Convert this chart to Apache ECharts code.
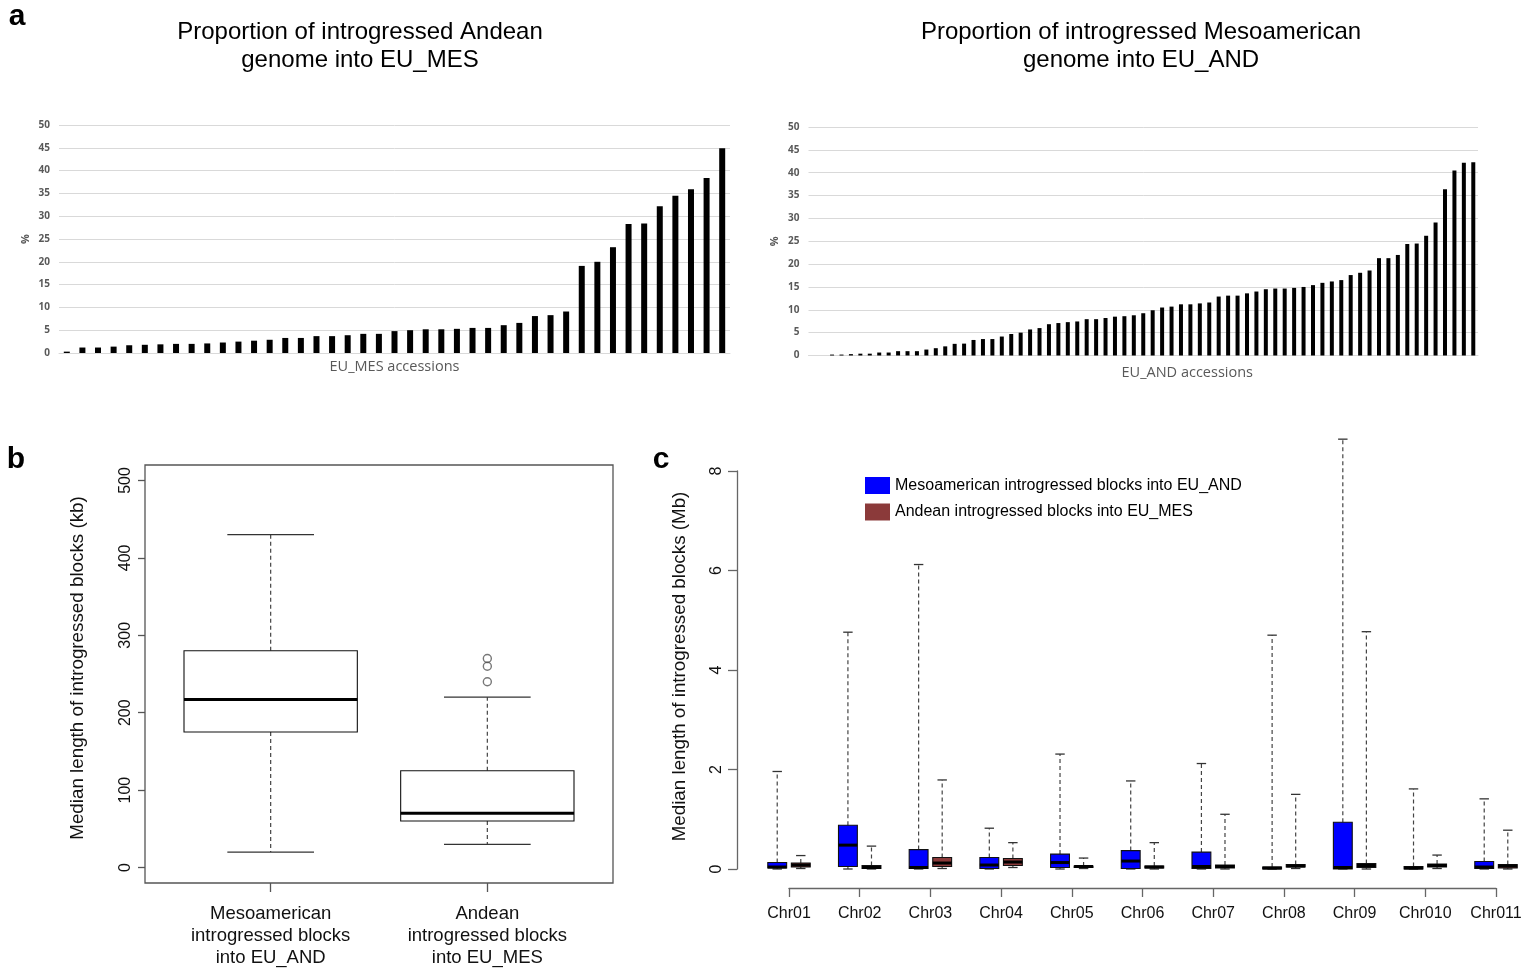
<!DOCTYPE html>
<html>
<head>
<meta charset="utf-8">
<script src="https://cdn.jsdelivr.net/npm/echarts@6/dist/echarts.min.js"></script>
<style>
  html, body { margin: 0; padding: 0; background: #fff; }
  #fig { width: 1527px; height: 975px; }
</style>
</head>
<body>
<div id="fig"></div>
<script>
// ── panel a: % introgressed genome per accession (sorted) ──
var mesPct = [0.3, 1.2, 1.2, 1.4, 1.7, 1.8, 1.9, 2.0, 2.0, 2.1, 2.3, 2.5, 2.7, 2.9, 3.3,
  3.3, 3.7, 3.7, 3.9, 4.2, 4.2, 4.8, 5.0, 5.2, 5.2, 5.3, 5.5, 5.5, 6.1, 6.6, 8.1, 8.3,
  9.1, 19.1, 20.0, 23.2, 28.3, 28.4, 32.2, 34.5, 35.9, 38.4, 44.9];
var andPct = [0, 0, 0.2, 0.2, 0.3, 0.4, 0.4, 0.65, 0.65, 0.95, 0.95, 0.95, 1.3, 1.6, 2.0,
  2.55, 2.6, 3.4, 3.6, 3.6, 4.15, 4.7, 5.0, 5.7, 6.0, 6.85, 7.1, 7.3, 7.45, 7.95, 7.95,
  8.2, 8.5, 8.6, 8.8, 9.25, 9.9, 10.5, 10.7, 11.2, 11.2, 11.4, 11.6, 12.9, 13.1, 13.1,
  13.6, 14.0, 14.5, 14.65, 14.65, 14.8, 15.0, 15.4, 15.9, 16.2, 16.5, 17.6, 18.1, 18.6,
  21.3, 21.3, 22.0, 24.4, 24.5, 26.2, 29.1, 36.4, 40.5, 42.2, 42.3];
var mesAcc = mesPct.map(function (v, i) { return "MES" + (i + 1); });
var andAcc = andPct.map(function (v, i) { return "AND" + (i + 1); });

// ── panel b: median block length (kb), [min, Q1, median, Q3, max] ──
var bNames = ["Mesoamerican\nintrogressed blocks\ninto EU_AND", "Andean\nintrogressed blocks\ninto EU_MES"];
var bBoxes = [[20, 175, 217, 280, 430], [30, 60, 70, 125, 220]];
var bOutliers = [240, 260, 270];   // Andean group
var bTicks = [0, 100, 200, 300, 400, 500];

// ── panel c: per chromosome (Mb), [min, Q1, median, Q3, max] ──
var chrNames = ["Chr01", "Chr02", "Chr03", "Chr04", "Chr05", "Chr06", "Chr07", "Chr08", "Chr09", "Chr010", "Chr011"];
var mesoChr = [
  [0.00, 0.02, 0.04, 0.13, 1.96], [0.00, 0.05, 0.48, 0.88, 4.76], [0.00, 0.01, 0.03, 0.39, 6.12],
  [0.00, 0.01, 0.08, 0.23, 0.82], [0.00, 0.03, 0.13, 0.30, 2.31], [0.00, 0.01, 0.16, 0.37, 1.77],
  [0.00, 0.01, 0.05, 0.34, 2.12], [0.00, 0.00, 0.02, 0.04, 4.70], [0.00, 0.00, 0.03, 0.94, 8.64],
  [0.00, 0.00, 0.02, 0.05, 1.61], [0.00, 0.01, 0.04, 0.15, 1.41]];
var andeanChr = [
  [0.01, 0.04, 0.08, 0.12, 0.27], [0.00, 0.01, 0.03, 0.07, 0.46], [0.01, 0.05, 0.12, 0.23, 1.79],
  [0.03, 0.07, 0.14, 0.21, 0.53], [0.01, 0.03, 0.05, 0.06, 0.22], [0.00, 0.02, 0.04, 0.06, 0.53],
  [0.00, 0.02, 0.05, 0.08, 1.10], [0.01, 0.04, 0.06, 0.09, 1.50], [0.00, 0.03, 0.07, 0.11, 4.77],
  [0.01, 0.04, 0.07, 0.10, 0.28], [0.00, 0.02, 0.06, 0.09, 0.78]];
var cTicks = chrNames.map(function (n, i) { return 1.5 + 3 * i; });
var mesoName = "Mesoamerican introgressed blocks into EU_AND";
var andeanName = "Andean introgressed blocks into EU_MES";

var R_FONT = "'Liberation Sans', Arial, sans-serif";
var XL_FONT = "'Open Sans', 'Noto Sans', sans-serif";

// R-style box: dashed whiskers, half-width staples, thick median
function rBox(fill, wex) {
  return function (params, api) {
    var x = api.value(0);
    var lo = api.coord([x, api.value(1)]), q1 = api.coord([x, api.value(2)]),
        md = api.coord([x, api.value(3)]), q3 = api.coord([x, api.value(4)]),
        hi = api.coord([x, api.value(5)]);
    var w = api.size([wex, 0])[0], cx = lo[0], h = w / 2, cap = w / 4;
    var dash = { stroke: "#444", lineWidth: 1.2, lineDash: [4, 3] };
    var solid = { stroke: "#333", lineWidth: 1.3 };
    return { type: "group", children: [
      { type: "line", shape: { x1: cx, y1: q3[1], x2: cx, y2: hi[1] }, style: dash },
      { type: "line", shape: { x1: cx, y1: q1[1], x2: cx, y2: lo[1] }, style: dash },
      { type: "line", shape: { x1: cx - cap, y1: hi[1], x2: cx + cap, y2: hi[1] }, style: solid },
      { type: "line", shape: { x1: cx - cap, y1: lo[1], x2: cx + cap, y2: lo[1] }, style: solid },
      { type: "rect", shape: { x: cx - h, y: q3[1], width: w, height: q1[1] - q3[1] },
        style: { fill: fill, stroke: "#111", lineWidth: 1.1 } },
      { type: "line", shape: { x1: cx - h, y1: md[1], x2: cx + h, y2: md[1] },
        style: { stroke: "#000", lineWidth: 3 } }
    ] };
  };
}

function xlYAxis(grid) {
  return {
    gridIndex: grid, type: "value", min: 0, max: 50, interval: 5,
    axisLine: { show: false }, axisTick: { show: false },
    splitLine: { lineStyle: { color: "#d9d9d9", width: 1 } },
    axisLabel: { color: "#595959", fontSize: 10, fontWeight: "bold", fontFamily: XL_FONT, margin: 9 },
    name: "%", nameLocation: "middle", nameRotate: 90, nameGap: 28,
    nameTextStyle: { color: "#595959", fontSize: 11, fontWeight: "bold", fontFamily: XL_FONT }
  };
}
function xlXAxis(grid, cats, name, shift) {
  return {
    gridIndex: grid, type: "category", data: cats,
    axisLine: { lineStyle: { color: "#d9d9d9" } }, axisTick: { show: false }, axisLabel: { show: false },
    name: name, nameLocation: "middle", nameGap: shift ? 10 : 6,
    nameTextStyle: { color: "#595959", fontSize: 14.5, fontFamily: XL_FONT, padding: [0, 0, 0, shift || 0] }
  };
}
function txt(text, x, y, size, bold) {
  return { type: "text", x: x, y: y, style: {
    text: text, fill: "#000", fontSize: size, fontWeight: bold ? "bold" : "normal", fontFamily: R_FONT,
    lineHeight: 28, align: "center", verticalAlign: "middle", textAlign: "center", textVerticalAlign: "middle" } };
}

var chart = echarts.init(document.getElementById("fig"), null, { renderer: "canvas" });
chart.setOption({
  animation: false,
  backgroundColor: "#fff",
  textStyle: { fontFamily: R_FONT },
  graphic: [
    txt("a", 17, 17, 30, true), txt("b", 16, 460, 30, true), txt("c", 661, 460, 30, true),
    txt("Proportion of introgressed Andean\ngenome into EU_MES", 360, 46, 24),
    txt("Proportion of introgressed Mesoamerican\ngenome into EU_AND", 1141, 46, 24)
  ],
  legend: {
    data: [mesoName, andeanName], left: 860, top: 472, orient: "vertical",
    icon: "rect", itemWidth: 25, itemHeight: 17, itemGap: 9.5, selectedMode: false,
    textStyle: { fontSize: 16, color: "#000", fontFamily: R_FONT }
  },
  grid: [
    { left: 59, top: 125, width: 671, height: 228 },
    { left: 808.5, top: 127, width: 669.5, height: 228.5 },
    { left: 145, top: 465, width: 468, height: 418, show: true, borderColor: "#555", borderWidth: 1.3, backgroundColor: "transparent" },
    { left: 789, top: 471, width: 707, height: 398 }
  ],
  xAxis: [
    xlXAxis(0, mesAcc, "EU_MES accessions"),
    xlXAxis(1, andAcc, "EU_AND accessions", 88),
    {
      gridIndex: 2, type: "value", min: 0.42, max: 2.58,
      axisLine: { show: false, onZero: false }, splitLine: { show: false },
      axisTick: { customValues: [1, 2], length: 9, lineStyle: { color: "#555", width: 1.3 } },
      axisLabel: { customValues: [1, 2], formatter: function (v) { return bNames[Math.round(v) - 1]; },
        fontSize: 18.5, lineHeight: 22, color: "#111", margin: 20 }
    },
    {
      gridIndex: 3, type: "value", min: 1.5, max: 31.5, offset: 19,
      axisLine: { onZero: false, lineStyle: { color: "#666", width: 1.3 } }, splitLine: { show: false },
      axisTick: { customValues: cTicks, length: 9, lineStyle: { color: "#666", width: 1.3 } },
      axisLabel: { customValues: cTicks, formatter: function (v) { return chrNames[Math.round((v - 1.5) / 3)]; },
        fontSize: 16, color: "#111", margin: 18 }
    }
  ],
  yAxis: [
    xlYAxis(0), xlYAxis(1),
    {
      gridIndex: 2, type: "value", min: -20, max: 520,
      axisLine: { show: false, onZero: false }, splitLine: { show: false },
      axisTick: { customValues: bTicks, length: 7, lineStyle: { color: "#555", width: 1.3 } },
      axisLabel: { customValues: bTicks, rotate: 90, fontSize: 16, color: "#111", margin: 11 },
      name: "Median length of introgressed blocks (kb)", nameLocation: "middle", nameRotate: 90, nameGap: 58,
      nameTextStyle: { fontSize: 18.8, color: "#111", padding: [0, 0, 0, 12] }
    },
    {
      gridIndex: 3, type: "value", min: 0, max: 8, interval: 2, offset: 52,
      axisLine: { show: true, onZero: false, lineStyle: { color: "#666", width: 1.3 } }, splitLine: { show: false },
      axisTick: { show: true, length: 9, lineStyle: { color: "#666", width: 1.3 } },
      axisLabel: { rotate: 90, fontSize: 16, color: "#111", margin: 12 },
      name: "Median length of introgressed blocks (Mb)", nameLocation: "middle", nameRotate: 90, nameGap: 48,
      nameTextStyle: { fontSize: 18.8, color: "#111", padding: [0, 0, 0, 7] }
    }
  ],
  series: [
    { type: "bar", xAxisIndex: 0, yAxisIndex: 0, data: mesPct, barWidth: 6, itemStyle: { color: "#000" } },
    { type: "bar", xAxisIndex: 1, yAxisIndex: 1, data: andPct, barWidth: 4, itemStyle: { color: "#000" } },
    {
      type: "custom", xAxisIndex: 2, yAxisIndex: 2, clip: false,
      data: bBoxes.map(function (b, i) { return [i + 1].concat(b); }),
      encode: { x: 0, y: [1, 2, 3, 4, 5] }, renderItem: rBox("#fff", 0.8)
    },
    {
      type: "scatter", xAxisIndex: 2, yAxisIndex: 2, symbol: "circle", symbolSize: 8,
      data: bOutliers.map(function (v) { return [2, v]; }),
      itemStyle: { color: "rgba(0,0,0,0)", borderColor: "#555", borderWidth: 1.4 }
    },
    {
      name: mesoName, type: "custom", xAxisIndex: 3, yAxisIndex: 3, clip: false,
      itemStyle: { color: "#0000ff" },
      data: mesoChr.map(function (b, i) { return [1 + 3 * i].concat(b); }),
      encode: { x: 0, y: [1, 2, 3, 4, 5] }, renderItem: rBox("#0000ff", 0.8)
    },
    {
      name: andeanName, type: "custom", xAxisIndex: 3, yAxisIndex: 3, clip: false,
      itemStyle: { color: "#8b3a3a" },
      data: andeanChr.map(function (b, i) { return [2 + 3 * i].concat(b); }),
      encode: { x: 0, y: [1, 2, 3, 4, 5] }, renderItem: rBox("#8b3a3a", 0.8)
    }
  ]
});
</script>
</body>
</html>
